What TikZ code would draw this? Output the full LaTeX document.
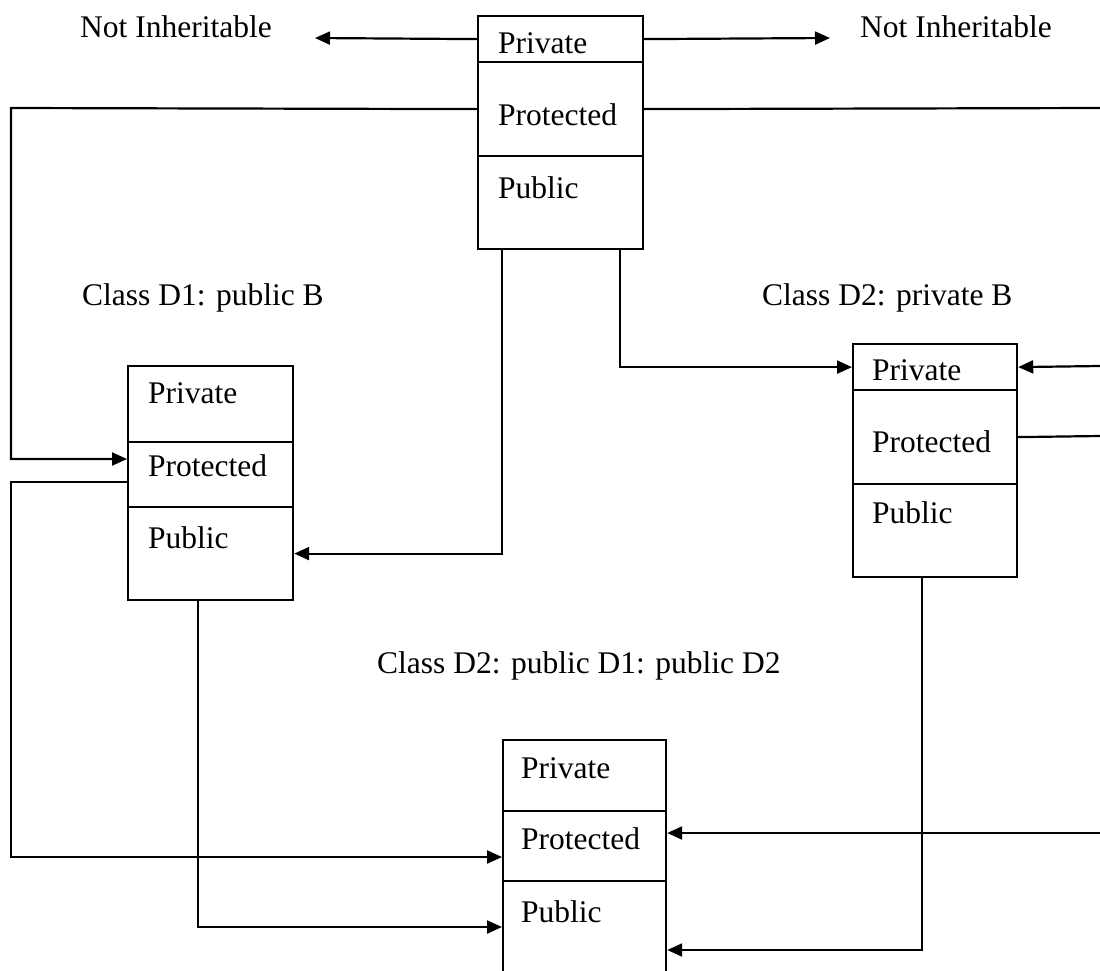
\documentclass[tikz,border=0pt]{standalone}
\usepackage{fontspec}
\setmainfont{Liberation Serif}
\usetikzlibrary{arrows.meta,calc}

\tikzset{
  sec/.style={draw, line width=2.2pt, inner sep=0pt, anchor=north west},
  txt/.style={anchor=base west, inner sep=0pt, font=\fontsize{31.5}{38}\selectfont},
  link/.style={line width=2.2pt},
  arr/.style={link, -{Triangle[length=15pt,width=13pt]}}
}

\begin{document}
\begin{tikzpicture}[x=1pt,y=-1pt]
\useasboundingbox (0,0) rectangle (1100,970);
\clip (0,0) rectangle (1100,970);

% base class B
\node[sec, minimum width=165pt, minimum height=46pt] (B-priv) at (477,15) {};
\node[sec, minimum width=165pt, minimum height=94pt] (B-prot) at (477,61) {};
\node[sec, minimum width=165pt, minimum height=93pt] (B-pub)  at (477,155) {};
\node[txt] (B-priv-t) at (498,53)  {Private};
\node[txt] (B-prot-t) at (498,125) {Protected};
\node[txt] (B-pub-t)  at (498,198) {Public};

% class D1
\node[sec, minimum width=165pt, minimum height=76pt] (D1-priv) at (127,365) {};
\node[sec, minimum width=165pt, minimum height=65pt] (D1-prot) at (127,441) {};
\node[sec, minimum width=165pt, minimum height=93pt] (D1-pub)  at (127,506) {};
\node[txt] (D1-priv-t) at (148,403) {Private};
\node[txt] (D1-prot-t) at (148,476) {Protected};
\node[txt] (D1-pub-t)  at (148,548) {Public};

% class D2
\node[sec, minimum width=164pt, minimum height=46pt] (D2-priv) at (852,343) {};
\node[sec, minimum width=164pt, minimum height=94pt] (D2-prot) at (852,389) {};
\node[sec, minimum width=164pt, minimum height=93pt] (D2-pub)  at (852,483) {};
\node[txt] (D2-priv-t) at (872,380) {Private};
\node[txt] (D2-prot-t) at (872,452) {Protected};
\node[txt] (D2-pub-t)  at (872,523) {Public};

% class D3
\node[sec, minimum width=163pt, minimum height=71pt]  (D3-priv) at (502,739) {};
\node[sec, minimum width=163pt, minimum height=70pt]  (D3-prot) at (502,810) {};
\node[sec, minimum width=163pt, minimum height=120pt] (D3-pub)  at (502,880) {};
\node[txt] (D3-priv-t) at (521,778) {Private};
\node[txt] (D3-prot-t) at (521,849) {Protected};
\node[txt] (D3-pub-t)  at (521,922) {Public};

% captions
\node[txt] (ni-l)  at (80,37)   {Not Inheritable};
\node[txt] (ni-r)  at (860,37)  {Not Inheritable};
\node[txt] (cap1)  at (82,305)  {Class D1: public B};
\node[txt] (cap2)  at (762,305) {Class D2: private B};
\node[txt] (cap3)  at (377,673) {Class D2: public D1: public D2};

% free ends
\coordinate (ni-l-tip) at (315,38);
\coordinate (ni-r-tip) at (830,38);
\coordinate (edge1) at (1100,108);
\coordinate (edge2) at (1100,366);
\coordinate (edge3) at (1100,436);
\coordinate (edge4) at (1100,833);

% private members of B are not inherited
\draw[arr] (B-priv.west) -- (ni-l-tip);
\draw[arr] (B-priv.east) -- (ni-r-tip);

% B protected
\draw[arr] (B-prot.west) -- (11,108) |- ($(D1-prot.north west)+(0,18)$);
\draw[link] (B-prot.east) -- (edge1);

% B public
\draw[arr] ($(B-pub.south west)+(25,0)$) |- (D1-pub.east);
\draw[arr] ($(B-pub.south east)+(-24,0)$) |- (D2-priv.west);

% D2 connections
\draw[arr] (edge2) -- (D2-priv.east);
\draw[link] (D2-prot.east) -- (edge3);
\draw[arr] ($(D2-pub.south west)+(70,0)$) |- ($(D3-pub.north east)+(0,70)$);

% D1 into D3
\draw[arr] ($(D1-prot.north west)+(0,41)$) -- (11,482) |- ($(D3-prot.north west)+(0,47)$);
\draw[arr] ($(D1-pub.south west)+(71,0)$) |- ($(D3-pub.north west)+(0,47)$);

% into D3 protected from the right
\draw[arr] (edge4) -- ($(D3-prot.north east)+(0,23)$);
\end{tikzpicture}
\end{document}
